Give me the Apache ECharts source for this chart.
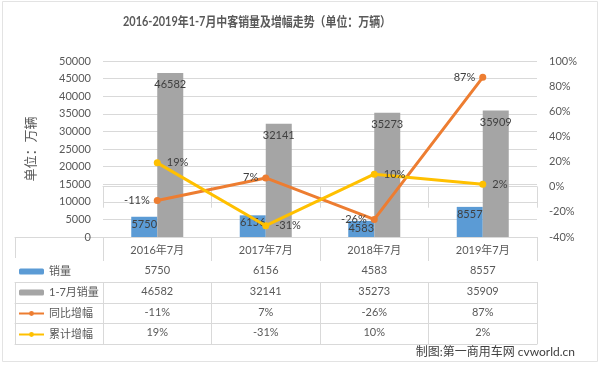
<!DOCTYPE html>
<html>
<head>
<meta charset="utf-8">
<script src="https://cdn.jsdelivr.net/npm/echarts@6/dist/echarts.min.js"></script>
<style>html,body{margin:0;padding:0;background:#fff}#c{width:600px;height:366px}</style>
</head>
<body>
<div id="c"></div>
<script>
var categories = ['2016年7月', '2017年7月', '2018年7月', '2019年7月'];
var monthSales = [5750, 6156, 4583, 8557];
var ytdSales = [46582, 32141, 35273, 35909];
var yoyGrowth = [-11, 7, -26, 87];
var cumGrowth = [19, -31, 10, 2];
var seriesNames = ['销量', '1-7月销量', '同比增幅', '累计增幅'];

var FONT = "Lato, 'Noto Sans CJK SC', sans-serif";
var TXT = '#595959';
var LINE = '#D9D9D9';
var COLORS = ['#5B9BD5', '#A5A5A5', '#ED7D31', '#FFC000'];

var chart = echarts.init(document.getElementById('c'), null, {renderer: 'canvas'});

var rowArrays = [
  monthSales.map(String),
  ytdSales.map(String),
  yoyGrowth.map(function (v) { return v + '%'; }),
  cumGrowth.map(function (v) { return v + '%'; })
];
var rowOffsets = [24, 45, 66, 86];
var rowHeights = [21, 21, 20, 21];

var xAxes = [{
  type: 'category', gridIndex: 0, data: categories, position: 'bottom',
  axisLine: {lineStyle: {color: LINE}},
  axisTick: {show: true, length: 24, lineStyle: {color: LINE}},
  axisLabel: {interval: 0, margin: 8, fontSize: 11, color: TXT, fontFamily: FONT}
}];
rowArrays.forEach(function (arr, r) {
  xAxes.push({
    type: 'category', gridIndex: 0, data: categories, position: 'bottom', offset: rowOffsets[r],
    axisLine: {lineStyle: {color: LINE}},
    axisTick: {show: true, length: rowHeights[r], lineStyle: {color: LINE}},
    axisLabel: {interval: 0, margin: 4, fontSize: 11, color: TXT, fontFamily: FONT,
      formatter: function (v, i) { return arr[i]; }}
  });
});
xAxes.push({
  type: 'category', gridIndex: 0, data: categories, position: 'bottom', offset: 107,
  axisLine: {lineStyle: {color: LINE}}, axisTick: {show: false}, axisLabel: {show: false}
});
// legend column of the table
rowOffsets.forEach(function (off, r) {
  xAxes.push({
    type: 'category', gridIndex: 1, data: [''], position: 'bottom', offset: off,
    axisLine: {lineStyle: {color: LINE}},
    axisTick: {show: true, length: rowHeights[r], lineStyle: {color: LINE}},
    axisLabel: {show: false}
  });
});
xAxes.push({
  type: 'category', gridIndex: 1, data: [''], position: 'bottom', offset: 107,
  axisLine: {lineStyle: {color: LINE}}, axisTick: {show: false}, axisLabel: {show: false}
});

var labelStyle = {fontSize: 11, color: '#404040', fontFamily: FONT};

var option = {
  backgroundColor: '#fff',
  animation: false,
  textStyle: {fontFamily: FONT},
  grid: [
    {left: 103, right: 63, top: 61, bottom: 129, outerBoundsMode: 'none'},
    {left: 15, right: 497, top: 61, bottom: 129, outerBoundsMode: 'none'}
  ],
  legend: {
    orient: 'vertical', left: 18, top: 261, padding: 0, itemGap: 0,
    itemWidth: 25, itemHeight: 6,
    data: seriesNames,
    textStyle: {fontSize: 11, color: TXT, lineHeight: 21, fontFamily: FONT}
  },
  xAxis: xAxes,
  yAxis: [
    {
      type: 'value', gridIndex: 0, min: 0, max: 50000, interval: 5000,
      name: '单位：万辆', nameLocation: 'middle', nameGap: 66,
      nameTextStyle: {fontSize: 13, color: TXT, fontFamily: FONT},
      axisLine: {show: false}, axisTick: {show: false},
      axisLabel: {fontSize: 11, color: TXT, margin: 12, fontFamily: FONT,
        formatter: function (v) { return String(v); }},
      splitLine: {lineStyle: {color: LINE}}
    },
    {
      type: 'value', gridIndex: 0, min: -40, max: 100, interval: 20, position: 'right',
      axisLine: {show: false}, axisTick: {show: false},
      axisLabel: {fontSize: 11, color: TXT, margin: 12, fontFamily: FONT, formatter: '{value}%'},
      splitLine: {show: false}
    },
    {type: 'value', gridIndex: 1, show: false}
  ],
  series: [
    {
      name: seriesNames[0], type: 'bar', xAxisIndex: 0, yAxisIndex: 0,
      data: monthSales, barWidth: 26, barGap: '0%',
      itemStyle: {color: COLORS[0]},
      label: Object.assign({show: true, position: 'insideTop', distance: 2}, labelStyle)
    },
    {
      name: seriesNames[1], type: 'bar', xAxisIndex: 0, yAxisIndex: 0,
      data: ytdSales, barWidth: 26, barGap: '0%',
      itemStyle: {color: COLORS[1]},
      label: Object.assign({show: true, position: 'insideTop', distance: 6}, labelStyle)
    },
    {
      name: seriesNames[2], type: 'line', xAxisIndex: 0, yAxisIndex: 1,
      data: yoyGrowth, symbol: 'circle', symbolSize: 7, z: 5,
      lineStyle: {width: 3, color: COLORS[2]}, itemStyle: {color: COLORS[2]},
      label: Object.assign({show: true, position: 'left', distance: 4, formatter: '{c}%'}, labelStyle)
    },
    {
      name: seriesNames[3], type: 'line', xAxisIndex: 0, yAxisIndex: 1,
      data: cumGrowth, symbol: 'circle', symbolSize: 7, z: 5,
      lineStyle: {width: 3, color: COLORS[3]}, itemStyle: {color: COLORS[3]},
      label: Object.assign({show: true, position: 'right', distance: 6, formatter: '{c}%'}, labelStyle)
    }
  ],
  graphic: [
    {type: 'rect', shape: {x: 2.5, y: 1.5, width: 595, height: 360}, style: {fill: 'none', stroke: '#E3E3E3', lineWidth: 1}, silent: true, z: -1},
    {type: 'text', x: 257, y: 22, scaleX: 0.84, style: {text: '2016-2019年1-7月中客销量及增幅走势（单位：万辆）', textAlign: 'center', textVerticalAlign: 'middle', fontSize: 13, fontWeight: 'bold', fill: TXT, fontFamily: FONT}},
    {type: 'text', x: 575, y: 352, style: {text: '制图:第一商用车网 cvworld.cn', textAlign: 'right', textVerticalAlign: 'middle', fontSize: 12, fill: '#404040', fontFamily: FONT}}
  ]
};
chart.setOption(option);
</script>
</body>
</html>
